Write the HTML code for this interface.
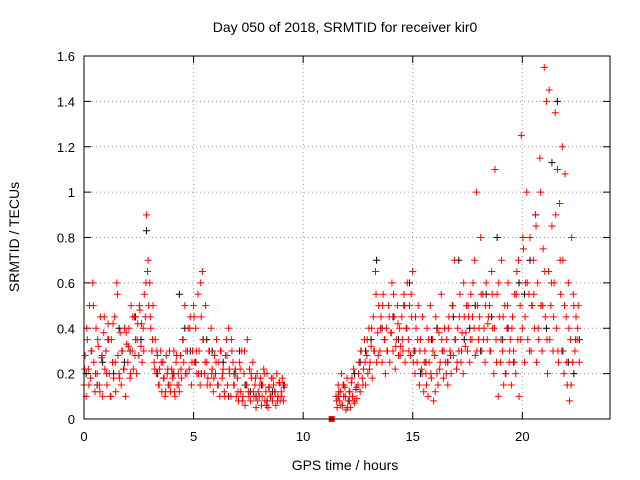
<!DOCTYPE html>
<html><head><meta charset="utf-8"><style>
html,body{margin:0;padding:0;background:#fff;}
svg{display:block;font-family:"Liberation Sans",sans-serif;}
</style></head><body>
<svg id="chart" width="640" height="480" viewBox="0 0 640 480" xmlns="http://www.w3.org/2000/svg">
<rect width="640" height="480" fill="#fff"/>
<text x="345" y="32" font-size="14" text-anchor="middle">Day 050 of 2018, SRMTID for receiver kir0</text>
<text transform="translate(19,237) rotate(-90)" font-size="14" text-anchor="middle">SRMTID / TECUs</text>
<text x="345" y="470" font-size="14" text-anchor="middle">GPS time / hours</text>
<g id="grid"></g>
<g id="ticks"></g>
<g id="black-series"></g>
<g id="red-series"></g>
<rect x="84" y="56" width="526" height="363" fill="none" stroke="#000" stroke-width="1"/>
</svg>
<script>
const xTicks=[0,5,10,15,20];
const yTicks=[0,0.2,0.4,0.6,0.8,1,1.2,1.4,1.6];
const yTickLabels=["0","0.2","0.4","0.6","0.8","1","1.2","1.4","1.6"];
const redStart1=0, redStep=0.05;
const redValues1=[.15,.28,.1,.35,.22,.5,.18,.3,.6,.25,.12,.4,.2,.32,.15,.45,.27,.1,.38,.22,
.3,.15,.42,.2,.1,.35,.25,.18,.45,.12,.6,.28,.2,.38,.15,.3,.22,.4,.1,.33,
.25,.4,.18,.5,.3,.22,.45,.35,.2,.42,.28,.48,.32,.25,.4,.55,.45,.9,.65,.5,
.6,.4,.3,.5,.25,.35,.2,.28,.15,.22,.3,.12,.25,.18,.1,.28,.2,.15,.3,.12,
.22,.18,.3,.1,.25,.15,.2,.12,.28,.18,.35,.25,.5,.3,.2,.4,.22,.45,.15,.3,
.5,.25,.4,.2,.55,.3,.15,.45,.65,.35,.2,.5,.25,.18,.3,.15,.4,.22,.12,.28,
.2,.35,.15,.25,.1,.3,.18,.22,.12,.28,.35,.15,.4,.2,.1,.3,.25,.15,.22,.1,
.18,.08,.25,.12,.3,.1,.2,.06,.15,.35,.12,.22,.08,.18,.25,.1,.15,.05,.2,.12,
.1,.18,.06,.15,.22,.08,.12,.2,.05,.14,.1,.18,.08,.15,.12,.06,.2,.1,.16,.08,
.12,.18,.08,.15];
const redStart2=11.5;
const redValues2=[.1,.05,.15,.08,.12,.2,.06,.1,.14,.04,.18,.08,.12,.05,.16,.1,.22,.07,.13,.09,
.15,.25,.12,.3,.18,.22,.35,.15,.28,.2,.4,.25,.32,.18,.45,.3,.65,.25,.38,.5,
.3,.45,.25,.55,.35,.2,.4,.3,.5,.25,.38,.6,.3,.45,.22,.35,.5,.28,.4,.32,
.45,.3,.55,.25,.4,.6,.35,.5,.28,.45,.65,.3,.2,.4,.25,.5,.15,.35,.22,.45,
.12,.3,.2,.4,.1,.25,.5,.18,.35,.08,.28,.45,.2,.15,.38,.25,.55,.3,.18,.4,
.25,.35,.15,.45,.3,.2,.5,.28,.7,.35,.22,.4,.3,.55,.25,.38,.2,.45,.32,.5,
.3,.45,.25,.55,.35,.6,.4,.28,1.0,.5,.35,.45,.8,.3,.55,.4,.25,.6,.35,.45,
.5,.3,.65,.4,.2,1.1,.35,.55,.1,.45,.25,.7,.3,.15,.5,.2,.4,.6,.25,.35,
.15,.45,.3,.55,.2,.65,.35,.1,.5,1.25,.4,.75,.25,.6,1.0,.35,.55,.8,.3,.5,
.7,.4,.9,.25,.6,.35,1.15,.5,.3,.75,1.55,.45,1.4,.2,.65,.35,.5,.85,.3,.6,
1.35,.4,1.1,.25,.95,.55,.3,.7,.2,1.08,.45,.15,.6,.08,.35,.8,.25,.5,.3,.45,
.35,.5,.25];
const redStepB=0.1;
const redStart1b=0.025;
const redValues1b=[.22,.4,.15,.3,.5,.2,.35,.12,.28,.45,
.2,.35,.1,.42,.25,.55,.18,.3,.22,.38,
.32,.2,.45,.28,.35,.5,.42,.3,.6,.7,
.45,.35,.22,.3,.15,.25,.18,.12,.22,.15,
.2,.12,.28,.15,.22,.35,.2,.3,.4,.25,
.45,.3,.2,.6,.35,.25,.15,.3,.2,.18,
.25,.15,.3,.2,.1,.28,.22,.35,.15,.2,
.12,.22,.08,.3,.15,.1,.2,.12,.18,.08,
.15,.1,.2,.06,.14,.1,.18,.12,.08,.16,
.1,.14];
const redStart2b=11.525;
const redValues2b=[.08,.12,.06,.15,.1,.05,.12,.18,.08,.14,
.2,.3,.15,.25,.35,.22,.4,.3,.55,.28,
.4,.5,.35,.3,.45,.38,.55,.32,.42,.28,
.35,.5,.4,.3,.55,.25,.45,.35,.3,.2,
.25,.15,.35,.2,.3,.12,.4,.22,.35,.3,
.2,.4,.28,.5,.35,.25,.45,.3,.6,.38,
.5,.35,.45,.7,.3,.4,.55,.35,.5,.42,
.3,.55,.4,.25,.6,.35,.45,.2,.5,.3,
.4,.25,.55,.7,.35,.8,.45,.6,.3,.5,
.55,.85,.4,1.0,.5,.65,.35,1.45,.6,.45,
.9,.3,.7,1.2,.5,.25,.4,.15,.55,.35,.4];
const blackStep=0.25;
const blackStart1=0;
const blackValues1=[.2,.3,.15,.25,.35,.2,.4,.25,.3,.45,.35,.83,.3,.2,.25,.15,.2,.55,.4,.3,.25,.2,.35,.3,.15,.25,.1,.2,.3,.15,.12,.1,.15,.08,.12,.1,.15];
const blackStart2=11.5;
const blackValues2=[.1,.15,.08,.2,.25,.3,.35,.7,.4,.3,.45,.35,.5,.6,.3,.2,.25,.35,.4,.3,.25,.45,.7,.35,.4,.5,.3,.55,.45,.8,.35,.4,.25,.6,.55,.7,.9,.5,.4,1.13,1.4,.3,.25,.2,.35];
const squareTime=[11.3], squareValue=[0];

const NS="http://www.w3.org/2000/svg";
const X0=84,X1=610,Y0=419,Y1=56,XMAX=24,YMAX=1.6;
function xs(v){return X0+(X1-X0)*v/XMAX;}
function ys(v){return Y0-(Y0-Y1)*v/YMAX;}
function mk(tag,attrs,parent){const e=document.createElementNS(NS,tag);for(const k in attrs)e.setAttribute(k,attrs[k]);parent.appendChild(e);return e;}
const grid=document.getElementById('grid'),ticks=document.getElementById('ticks');
xTicks.forEach(t=>{
  const x=xs(t);
  if(t>0){const g=mk('line',{x1:x,x2:x,y1:Y1,y2:Y0,stroke:'#a0a0a0','stroke-dasharray':'1,3'},grid);
  
  }
  mk('line',{x1:x,x2:x,y1:Y0,y2:Y0-7,stroke:'#000'},ticks);
  mk('line',{x1:x,x2:x,y1:Y1,y2:Y1+7,stroke:'#000'},ticks);
  const l=mk('text',{x:x,y:Y0+22,'font-size':13,'text-anchor':'middle'},ticks);
  l.textContent=t;
  
  
});
yTicks.forEach((t,i)=>{
  const y=ys(t);
  if(t>0&&t<YMAX){const g=mk('line',{x1:X0,x2:X1,y1:y,y2:y,stroke:'#a0a0a0','stroke-dasharray':'1,3'},grid);
  
  }
  mk('line',{x1:X0,x2:X0+7,y1:y,y2:y,stroke:'#000'},ticks);
  mk('line',{x1:X1,x2:X1-7,y1:y,y2:y,stroke:'#000'},ticks);
  const l=mk('text',{x:X0-9,y:y+5,'font-size':13,'text-anchor':'end'},ticks);
  l.textContent=yTickLabels[i];
  
  
});
function plus(parent,t,v,color){
  const x=xs(t),y=ys(v);
  const p=mk('path',{d:`M${x-3.5},${y}h7M${x},${y-3.5}v7`,stroke:color,'stroke-width':1,fill:'none'},parent);
  
  
}
const bg=document.getElementById('black-series'),rg=document.getElementById('red-series');
blackValues1.forEach((v,i)=>plus(bg,blackStart1+i*blackStep+0.1,v,'#000'));
blackValues2.forEach((v,i)=>plus(bg,blackStart2+i*blackStep+0.1,v,'#000'));
redValues1.forEach((v,i)=>plus(rg,redStart1+i*redStep,v,'#f00'));
redValues2.forEach((v,i)=>plus(rg,redStart2+i*redStep,v,'#f00'));
redValues1b.forEach((v,i)=>plus(rg,redStart1b+i*redStepB,v,'#f00'));
redValues2b.forEach((v,i)=>plus(rg,redStart2b+i*redStepB,v,'#f00'));
squareTime.forEach((t,i)=>{
  const s=mk('rect',{x:xs(t)-3,y:ys(squareValue[i])-3,width:6,height:6,fill:'#f00'},rg);
  
  
});
</script>
</body></html>
